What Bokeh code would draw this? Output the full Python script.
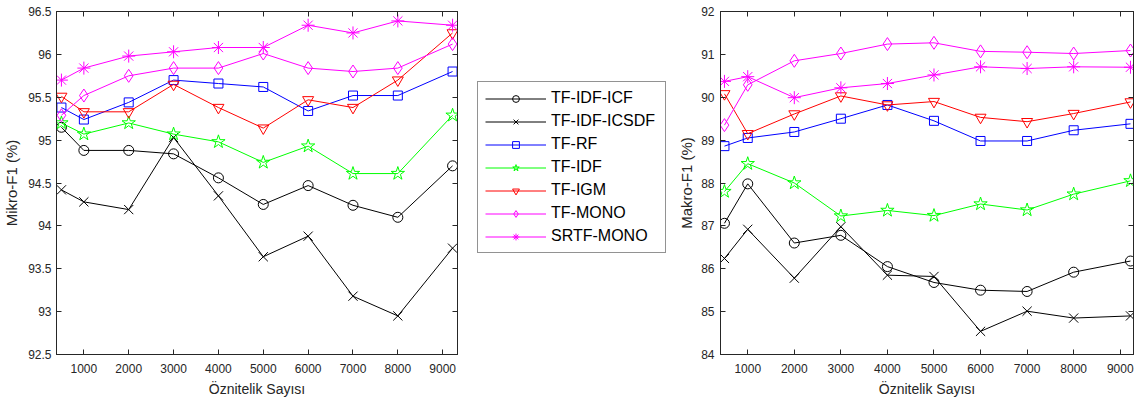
from bokeh.plotting import figure
from bokeh.models import (Range1d, LinearAxis, FixedTicker, Legend, LegendItem,
                          PrintfTickFormatter, CustomLabelingPolicy)
from bokeh.layouts import row
from bokeh.embed import file_html
from bokeh.resources import INLINE

# ---------------- data ----------------
feature_counts = [500, 1000, 2000, 3000, 4000, 5000, 6000, 7000, 8000, 9220]
method_names = ["TF-IDF-ICF", "TF-IDF-ICSDF", "TF-RF", "TF-IDF", "TF-IGM", "TF-MONO", "SRTF-MONO"]

micro_tf_idf_icf = [95.15, 94.88, 94.88, 94.84, 94.56, 94.25, 94.47, 94.24, 94.10, 94.70]
micro_tf_idf_icsdf = [94.42, 94.28, 94.19, 95.03, 94.35, 93.64, 93.88, 93.18, 92.95, 93.74]
micro_tf_rf = [95.38, 95.24, 95.44, 95.70, 95.66, 95.62, 95.34, 95.52, 95.52, 95.80]
micro_tf_idf = [95.20, 95.07, 95.20, 95.07, 94.98, 94.74, 94.93, 94.61, 94.61, 95.29]
micro_tf_igm = [95.51, 95.33, 95.33, 95.65, 95.38, 95.14, 95.47, 95.38, 95.70, 96.25]
micro_tf_mono = [95.29, 95.52, 95.75, 95.84, 95.84, 96.01, 95.84, 95.80, 95.84, 96.12]
micro_srtf_mono = [95.70, 95.84, 95.98, 96.03, 96.08, 96.08, 96.34, 96.25, 96.39, 96.34]

macro_tf_idf_icf = [87.06, 87.98, 86.60, 86.78, 86.05, 85.68, 85.50, 85.47, 85.92, 86.18]
macro_tf_idf_icsdf = [86.24, 86.92, 85.78, 86.98, 85.85, 85.82, 84.54, 85.01, 84.85, 84.90]
macro_tf_rf = [88.86, 89.05, 89.19, 89.50, 89.82, 89.45, 88.98, 88.98, 89.23, 89.38]
macro_tf_idf = [87.80, 88.45, 88.00, 87.23, 87.36, 87.24, 87.51, 87.37, 87.74, 88.05]
macro_tf_igm = [90.08, 89.15, 89.61, 90.03, 89.82, 89.90, 89.53, 89.43, 89.62, 89.89]
macro_tf_mono = [89.35, 90.29, 90.85, 91.02, 91.24, 91.27, 91.07, 91.05, 91.02, 91.09]
macro_srtf_mono = [90.37, 90.48, 89.99, 90.22, 90.32, 90.52, 90.71, 90.67, 90.71, 90.70]

x_ticks = [1000, 2000, 3000, 4000, 5000, 6000, 7000, 8000, 9000]
micro_y_ticks = [92.5, 93, 93.5, 94, 94.5, 95, 95.5, 96, 96.5]
macro_y_ticks = [84, 85, 86, 87, 88, 89, 90, 91, 92]

micro_series = [micro_tf_idf_icf, micro_tf_idf_icsdf, micro_tf_rf, micro_tf_idf,
                micro_tf_igm, micro_tf_mono, micro_srtf_mono]
macro_series = [macro_tf_idf_icf, macro_tf_idf_icsdf, macro_tf_rf, macro_tf_idf,
                macro_tf_igm, macro_tf_mono, macro_srtf_mono]

# ---------------- styles ----------------
colors = ["#000000", "#000000", "#0000FF", "#00FF00", "#FF0000", "#FF00FF", "#FF00FF"]
markers = ["circle", "x", "square", "star", "inverted_triangle", "diamond", "asterisk"]
msizes = [10, 13, 9, 14, 11, 13, 13]

FONT = "Liberation Sans"
TXT = "#262626"
H = 401
MB_TOP = 11
MB_BOTTOM = 47

HIDE_CODE = """
try {
  return new indices.constructor(indices.size, 0)
} catch (e) {
  for (const i of Array.from(indices)) { indices.unset(i) }
  return indices
}
"""


def style_axis(ax, ticks, show_labels=True):
    ax.ticker = FixedTicker(ticks=ticks)
    ax.major_tick_in = 5
    ax.major_tick_out = 0
    ax.minor_tick_line_color = None
    ax.axis_line_color = TXT
    ax.major_tick_line_color = TXT
    ax.major_label_text_font = FONT
    ax.major_label_text_color = TXT
    if show_labels:
        ax.major_label_text_font_size = "12px"
    else:
        ax.major_label_text_font_size = "0px"
        ax.major_label_standoff = 0
        ax.major_label_policy = CustomLabelingPolicy(code=HIDE_CODE)


def make_panel(series, y_range, y_ticks, y_label, x_range, width, mbl, mbr,
               y_std, y_label_std, fmt=None):
    p = figure(width=width, height=H, x_range=Range1d(*x_range), y_range=Range1d(*y_range),
               output_backend="svg", toolbar_location=None,
               min_border_left=mbl, min_border_right=mbr,
               min_border_top=MB_TOP, min_border_bottom=MB_BOTTOM)
    p.xgrid.visible = False
    p.ygrid.visible = False
    p.outline_line_color = TXT
    p.background_fill_color = "white"
    p.border_fill_color = "white"

    xa = p.xaxis[0]
    ya = p.yaxis[0]
    style_axis(xa, x_ticks)
    style_axis(ya, y_ticks)
    if fmt is not None:
        ya.formatter = fmt
    xa.major_label_standoff = 9
    ya.major_label_standoff = y_std
    for ax, lab, st, fs in ((xa, "Öznitelik Sayısı", 5, "14px"), (ya, y_label, y_label_std, "15px")):
        ax.axis_label = lab
        ax.axis_label_text_font = FONT
        ax.axis_label_text_font_size = fs
        ax.axis_label_text_font_style = "normal"
        ax.axis_label_text_color = TXT
        ax.axis_label_standoff = st

    top = LinearAxis()
    style_axis(top, x_ticks, show_labels=False)
    p.add_layout(top, "above")
    right = LinearAxis()
    style_axis(right, y_ticks, show_labels=False)
    p.add_layout(right, "right")

    for vals, c, m, s in zip(series, colors, markers, msizes):
        p.line(feature_counts, vals, line_color=c, line_width=1)
        p.scatter(feature_counts, vals, marker=m, size=s, line_color=c, fill_color=None, line_width=1)
    return p


left = make_panel(micro_series, (92.5, 96.5), micro_y_ticks, "Mikro-F1 (%)",
                  (390, 9330), 467, 54, 10, 5, 5, fmt=PrintfTickFormatter(format="%g"))
right = make_panel(macro_series, (84, 92), macro_y_ticks, "Makro-F1 (%)",
                   (415, 9285), 464, 44, 6, 6, 3)

# middle: legend only (series drawn outside its visible ranges)
mid = figure(width=208, height=H, x_range=Range1d(0, 1), y_range=Range1d(0, 1),
             output_backend="svg", toolbar_location=None,
             x_axis_location=None, y_axis_location=None,
             min_border_left=0, min_border_right=0,
             min_border_top=MB_TOP, min_border_bottom=MB_BOTTOM)
mid.xgrid.visible = False
mid.ygrid.visible = False
mid.outline_line_color = None
items = []
for name, vals, c, m, s in zip(method_names, micro_series, colors, markers, msizes):
    r1 = mid.line(feature_counts, vals, line_color=c, line_width=1)
    r2 = mid.scatter(feature_counts, vals, marker=m, size=s, line_color=c, fill_color=None, line_width=1)
    items.append(LegendItem(label=name, renderers=[r1, r2]))

legend = Legend(items=items, location=(10, 101), padding=7, spacing=5,
                glyph_height=17, glyph_width=61, label_height=17, label_width=107,
                label_standoff=5,
                label_text_font=FONT, label_text_font_size="16px", label_text_color="#000000",
                border_line_color=TXT, border_line_width=1, background_fill_color="white",
                background_fill_alpha=1.0, margin=0, click_policy="none")
mid.add_layout(legend)

layout = row(left, mid, right)
open("out.html", "w").write(file_html(layout, INLINE))
